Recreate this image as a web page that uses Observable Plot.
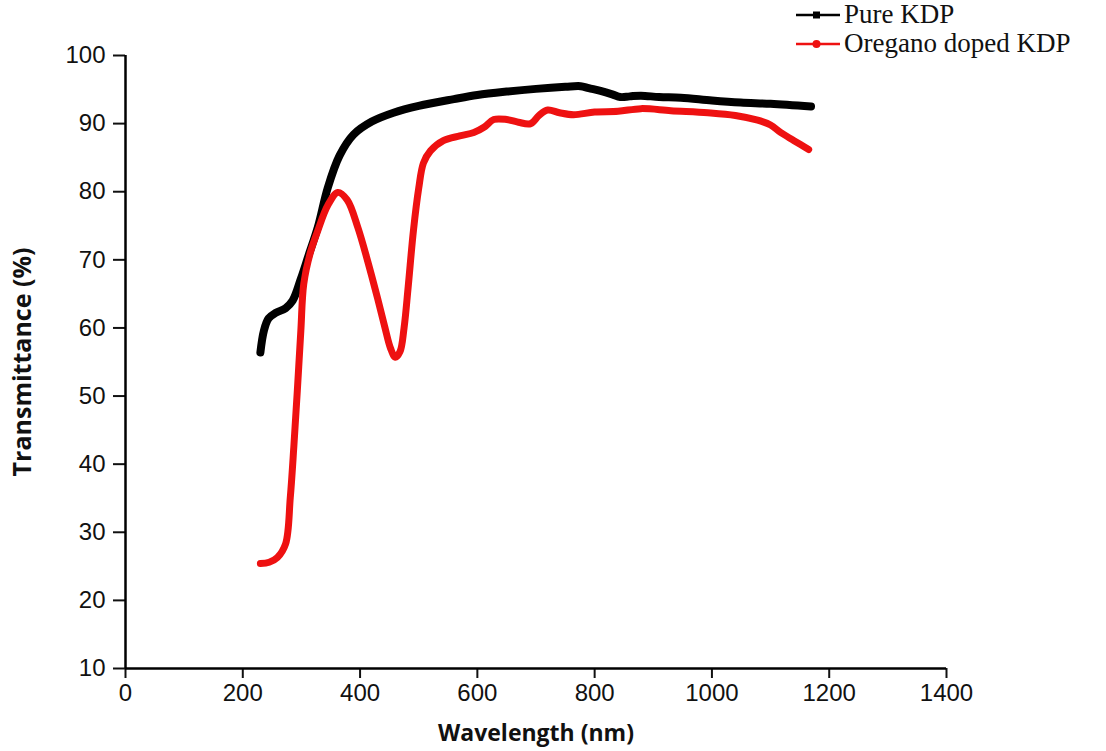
<!DOCTYPE html>
<html>
<head>
<meta charset="utf-8">
<script src="https://cdn.jsdelivr.net/npm/d3@7"></script>
<script src="https://cdn.jsdelivr.net/npm/@observablehq/plot@0.6"></script>
<style>
  html, body { margin: 0; padding: 0; background: #fff; }
  #wrap { position: relative; width: 1106px; height: 751px; }
  #legend { position: absolute; left: 795px; top: 0px; font-family: "Liberation Serif", "Times New Roman", serif; font-size: 27px; color: #111; }
  #legend .row { display: flex; align-items: center; height: 29px; }
  #legend svg { margin-right: 3px; }
</style>
</head>
<body>
<div id="wrap">
  <div id="chart"></div>
  <div id="legend"></div>
</div>
<script>
// Pure KDP
const pureWavelength = [230, 236, 244, 256, 273, 285, 299, 312, 328, 345, 365, 389, 420, 457, 500, 560, 600, 650, 700, 750, 776, 790, 810, 830, 844, 860, 879, 910, 947, 1000, 1049, 1100, 1169];
const pureTransmittance = [56.4, 59.6, 61.4, 62.2, 62.9, 64.0, 67.2, 70.6, 74.8, 80.6, 85.3, 88.4, 90.3, 91.6, 92.6, 93.6, 94.2, 94.7, 95.1, 95.4, 95.5, 95.2, 94.8, 94.3, 93.9, 94.0, 94.1, 93.9, 93.8, 93.4, 93.1, 92.9, 92.5];

// Oregano doped KDP
const dopedWavelength = [230, 245, 259, 273, 281, 287, 293, 299, 304, 315, 328, 345, 362, 378, 396, 413, 430, 442, 452, 460, 468, 475, 482, 491, 500, 508, 520, 542, 570, 594, 612, 628, 650, 670, 691, 705, 720, 740, 764, 800, 840, 879, 930, 993, 1040, 1078, 1100, 1117, 1140, 1165];
const dopedTransmittance = [25.4, 25.6, 26.3, 28.3, 35.1, 42.5, 50.8, 59.6, 66.5, 71.0, 74.3, 78.0, 79.9, 78.8, 74.8, 69.8, 64.3, 60.2, 57.0, 55.7, 56.5, 60.0, 66.0, 74.3, 80.5, 84.2, 86.0, 87.5, 88.2, 88.7, 89.5, 90.6, 90.6, 90.2, 90.0, 91.2, 92.0, 91.6, 91.3, 91.7, 91.8, 92.2, 91.9, 91.6, 91.2, 90.5, 89.8, 88.7, 87.5, 86.2];

const xTicks = [0, 200, 400, 600, 800, 1000, 1200, 1400];
const yTicks = [10, 20, 30, 40, 50, 60, 70, 80, 90, 100];

const seriesNames = ["Pure KDP", "Oregano doped KDP"];
const seriesColors = ["#000000", "#ee1111"];

const pure = pureWavelength.map((x, i) => ({x, y: pureTransmittance[i]}));
const doped = dopedWavelength.map((x, i) => ({x, y: dopedTransmittance[i]}));

const chart = Plot.plot({
  width: 1106,
  height: 751,
  marginLeft: 125,
  marginRight: 160,
  marginTop: 55,
  marginBottom: 83,
  style: {fontFamily: "'Liberation Sans', Arial, sans-serif", fontSize: "24px", color: "#111", background: "#fff"},
  x: {domain: [0, 1400]},
  y: {domain: [10, 100]},
  marks: [
    Plot.axisX({ticks: xTicks, tickSize: 10, tickPadding: 5, tickFormat: d => String(d), label: null, fontSize: 24, strokeWidth: 2}),
    Plot.axisY({ticks: yTicks, tickSize: 12, tickPadding: 8, tickFormat: d => String(d), label: null, fontSize: 24, strokeWidth: 2}),
    Plot.axisX({ticks: [], label: "Wavelength (nm)", labelAnchor: "center", labelArrow: false, labelOffset: 72, fontFamily: "'Open Sans', sans-serif", fontWeight: "bold", fontSize: 23}),
    Plot.axisY({ticks: [], label: "Transmittance (%)", labelAnchor: "center", labelArrow: false, labelOffset: 112, fontFamily: "'Open Sans', sans-serif", fontWeight: "bold", fontSize: 25}),
    Plot.ruleX([0], {stroke: "#000", strokeWidth: 2.5}),
    Plot.ruleY([10], {stroke: "#000", strokeWidth: 2.5}),
    Plot.line(pure, {x: "x", y: "y", stroke: seriesColors[0], strokeWidth: 8, curve: "catmull-rom"}),
    Plot.line(doped, {x: "x", y: "y", stroke: seriesColors[1], strokeWidth: 7, curve: "catmull-rom"})
  ]
});
document.getElementById("chart").appendChild(chart);

const legend = document.getElementById("legend");
seriesNames.forEach((name, i) => {
  const row = document.createElement("div");
  row.className = "row";
  const marker = i === 0
    ? `<rect x="18" y="4.5" width="7" height="7" fill="${seriesColors[i]}"/>`
    : `<circle cx="21.5" cy="8" r="4" fill="${seriesColors[i]}"/>`;
  row.innerHTML = `<svg width="46" height="16"><line x1="1" y1="8" x2="45" y2="8" stroke="${seriesColors[i]}" stroke-width="2.5"/>${marker}</svg><span>${name}</span>`;
  legend.appendChild(row);
});
</script>
</body>
</html>
